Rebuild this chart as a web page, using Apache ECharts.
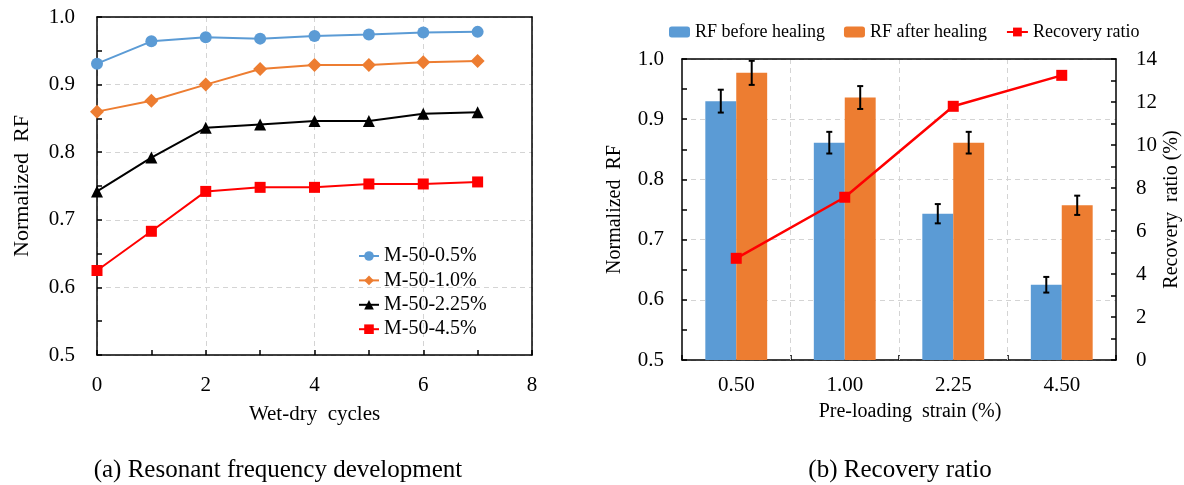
<!DOCTYPE html>
<html>
<head>
<meta charset="utf-8">
<script src="https://cdn.jsdelivr.net/npm/echarts@6/dist/echarts.min.js"></script>
<style>
html,body{margin:0;padding:0;background:#fff;}
#chart{width:1184px;height:485px;}
</style>
</head>
<body>
<div id="chart"></div>
<script>
// ---------- Data ----------
const cycles = [0, 1, 2, 3, 4, 5, 6, 7];
const m05 = [0.931, 0.964, 0.970, 0.968, 0.972, 0.974, 0.977, 0.978];
const m10 = [0.860, 0.876, 0.900, 0.923, 0.929, 0.929, 0.933, 0.935];
const m225 = [0.742, 0.792, 0.836, 0.841, 0.846, 0.846, 0.857, 0.859];
const m45 = [0.625, 0.683, 0.742, 0.748, 0.748, 0.753, 0.753, 0.756];
const seriesNamesA = ['M-50-0.5%', 'M-50-1.0%', 'M-50-2.25%', 'M-50-4.5%'];

const strains = ['0.50', '1.00', '2.25', '4.50'];
const rfBefore = [0.930, 0.861, 0.743, 0.625];
const rfAfter = [0.977, 0.936, 0.861, 0.757];
const errBefore = [0.019, 0.018, 0.016, 0.013];
const errAfter = [0.020, 0.019, 0.018, 0.016];
const recovery = [4.73, 7.57, 11.80, 13.24];

// ---------- Styles ----------
const FONT = '"Liberation Serif", "Times New Roman", serif';
const BLUE = '#5B9BD5', ORANGE = '#ED7D31', BLACK = '#000000', RED = '#FF0000';
const GRIDC = '#d4d4d4';
const BAR_GAP_CAT = 0.43;

function pair(xs, ys) { return xs.map((x, i) => [x, ys[i]]); }

function axisBase() {
  return {
    axisLine: { show: true, lineStyle: { color: BLACK, width: 1.5 } },
    axisTick: { show: true, inside: true, length: 5, lineStyle: { color: BLACK, width: 1.5 } },
    minorTick: { show: true, splitNumber: 2, length: 5, lineStyle: { color: BLACK, width: 1.5 } },
    axisLabel: { color: BLACK, fontFamily: FONT, fontSize: 21 },
    splitLine: { show: true, lineStyle: { color: GRIDC, type: [5, 4], width: 1 } },
    nameTextStyle: { color: BLACK, fontFamily: FONT, fontSize: 21 }
  };
}

// frame axis: a solid border line drawn above the dashed grid lines
function frameAxis(gridIndex, position, max, splitShow) {
  return {
    type: 'value', gridIndex: gridIndex, position: position, min: 0, max: max, interval: 1, z: 3,
    axisLine: { show: true, onZero: false, lineStyle: { color: BLACK, width: 1.5 } },
    axisTick: { show: false }, minorTick: { show: false },
    axisLabel: { show: false },
    splitLine: { show: !!splitShow, showMinLine: false, showMaxLine: false,
                 lineStyle: { color: GRIDC, type: [5, 4], width: 1 } }
  };
}

function errRender(offsetSign) {
  return function (params, api) {
    const c = api.value(0), v = api.value(1), e = api.value(2);
    const band = api.size([1, 0])[0];
    const off = offsetSign * band * (1 - BAR_GAP_CAT) / 4;
    const x = api.coord([c, v])[0] + off;
    const yt = api.coord([c, v + e])[1];
    const yb = api.coord([c, v - e])[1];
    const cap = 3;
    const st = { stroke: BLACK, lineWidth: 2 };
    return {
      type: 'group',
      children: [
        { type: 'line', shape: { x1: x, y1: yt, x2: x, y2: yb }, style: st },
        { type: 'line', shape: { x1: x - cap, y1: yt, x2: x + cap, y2: yt }, style: st },
        { type: 'line', shape: { x1: x - cap, y1: yb, x2: x + cap, y2: yb }, style: st }
      ]
    };
  };
}

const xA = Object.assign(axisBase(), {
  type: 'value', gridIndex: 0, min: 0, max: 8, interval: 2, z: 2,
  name: 'Wet-dry  cycles', nameLocation: 'middle', nameGap: 49,
  nameTextStyle: { color: BLACK, fontFamily: FONT, fontSize: 21 }
});
xA.axisLabel = { color: BLACK, fontFamily: FONT, fontSize: 21, margin: 20 };

const yA = Object.assign(axisBase(), {
  type: 'value', gridIndex: 0, min: 0.5, max: 1.0, interval: 0.1, z: 2,
  name: 'Normalized  RF', nameLocation: 'middle', nameGap: 64,
  nameTextStyle: { color: BLACK, fontFamily: FONT, fontSize: 22 }
});
yA.axisLabel = { color: BLACK, fontFamily: FONT, fontSize: 21, margin: 22, formatter: v => v.toFixed(1) };

const xB = Object.assign(axisBase(), {
  type: 'category', gridIndex: 1, data: strains, z: 2,
  name: 'Pre-loading  strain (%)', nameLocation: 'middle', nameGap: 42,
  nameTextStyle: { color: BLACK, fontFamily: FONT, fontSize: 20, padding: [0, 0, 0, 22] }
});
xB.axisLabel = { color: BLACK, fontFamily: FONT, fontSize: 21, margin: 15 };
xB.minorTick = { show: false };
xB.axisTick = { show: true, inside: true, length: 5, alignWithLabel: false, lineStyle: { color: BLACK, width: 1.5 } };
xB.splitLine = { show: false };

const yB = Object.assign(axisBase(), {
  type: 'value', gridIndex: 1, min: 0.5, max: 1.0, interval: 0.1, z: 2,
  name: 'Normalized  RF', nameLocation: 'middle', nameGap: 57,
  nameTextStyle: { color: BLACK, fontFamily: FONT, fontSize: 20 }
});
yB.axisLabel = { color: BLACK, fontFamily: FONT, fontSize: 21, margin: 18, formatter: v => v.toFixed(1) };

const yB2 = Object.assign(axisBase(), {
  type: 'value', gridIndex: 1, position: 'right', min: 0, max: 14, interval: 2, z: 3,
  name: 'Recovery  ratio (%)', nameLocation: 'middle', nameGap: 46, nameRotate: 90,
  nameTextStyle: { color: BLACK, fontFamily: FONT, fontSize: 20 }
});
yB2.axisLabel = { color: BLACK, fontFamily: FONT, fontSize: 21, margin: 20 };
yB2.splitLine = { show: false };

const option = {
  backgroundColor: '#ffffff',
  animation: false,
  textStyle: { fontFamily: FONT },
  grid: [
    { left: 97, top: 17, width: 435, height: 338, show: false },
    { left: 682, top: 59, width: 434, height: 301, show: false }
  ],
  // top frame of chart (b) also carries the category-boundary grid lines (one per category)
  xAxis: [xA, xB, frameAxis(0, 'top', 1, false), frameAxis(1, 'top', strains.length, true)],
  yAxis: [yA, yB, yB2, frameAxis(0, 'right', 1, false)],
  legend: [
    {
      data: seriesNamesA, orient: 'vertical', left: 353, top: 241,
      itemWidth: 20, itemHeight: 12, itemGap: 4.4,
      textStyle: { color: BLACK, fontFamily: FONT, fontSize: 20, lineHeight: 20 }
    },
    {
      data: ['RF before healing', 'RF after healing', 'Recovery ratio'],
      orient: 'horizontal', left: 664, top: 18,
      itemWidth: 21, itemHeight: 11, itemGap: 19,
      textStyle: { color: BLACK, fontFamily: FONT, fontSize: 18 }
    }
  ],
  graphic: [
    { type: 'text', x: 278, y: 470, style: { text: '(a) Resonant frequency development', font: '25px ' + FONT, fill: BLACK, textAlign: 'center', textVerticalAlign: 'middle' } },
    { type: 'text', x: 900, y: 470, style: { text: '(b) Recovery ratio', font: '25px ' + FONT, fill: BLACK, textAlign: 'center', textVerticalAlign: 'middle' } }
  ],
  series: [
    { name: seriesNamesA[0], type: 'line', xAxisIndex: 0, yAxisIndex: 0, data: pair(cycles, m05),
      symbol: 'circle', symbolSize: 12, itemStyle: { color: BLUE }, lineStyle: { color: BLUE, width: 2 } },
    { name: seriesNamesA[1], type: 'line', xAxisIndex: 0, yAxisIndex: 0, data: pair(cycles, m10),
      symbol: 'diamond', symbolSize: 14, itemStyle: { color: ORANGE }, lineStyle: { color: ORANGE, width: 2 } },
    { name: seriesNamesA[2], type: 'line', xAxisIndex: 0, yAxisIndex: 0, data: pair(cycles, m225),
      symbol: 'triangle', symbolSize: 12, itemStyle: { color: BLACK }, lineStyle: { color: BLACK, width: 2 } },
    { name: seriesNamesA[3], type: 'line', xAxisIndex: 0, yAxisIndex: 0, data: pair(cycles, m45),
      symbol: 'rect', symbolSize: 11, itemStyle: { color: RED }, lineStyle: { color: RED, width: 2 } },

    { name: 'RF before healing', type: 'bar', xAxisIndex: 1, yAxisIndex: 1, data: rfBefore,
      barGap: 0, barCategoryGap: (BAR_GAP_CAT * 100) + '%', itemStyle: { color: BLUE } },
    { name: 'RF after healing', type: 'bar', xAxisIndex: 1, yAxisIndex: 1, data: rfAfter,
      barGap: 0, barCategoryGap: (BAR_GAP_CAT * 100) + '%', itemStyle: { color: ORANGE } },
    { name: 'errBefore', type: 'custom', xAxisIndex: 1, yAxisIndex: 1, z: 5,
      data: rfBefore.map((v, i) => [i, v, errBefore[i]]), renderItem: errRender(-1) },
    { name: 'errAfter', type: 'custom', xAxisIndex: 1, yAxisIndex: 1, z: 5,
      data: rfAfter.map((v, i) => [i, v, errAfter[i]]), renderItem: errRender(1) },
    { name: 'Recovery ratio', type: 'line', xAxisIndex: 1, yAxisIndex: 2, data: recovery, z: 6,
      symbol: 'rect', symbolSize: 11, itemStyle: { color: RED }, lineStyle: { color: RED, width: 2.5 } }
  ]
};

const chart = echarts.init(document.getElementById('chart'), null, { renderer: 'canvas' });
chart.setOption(option);
</script>
</body>
</html>
